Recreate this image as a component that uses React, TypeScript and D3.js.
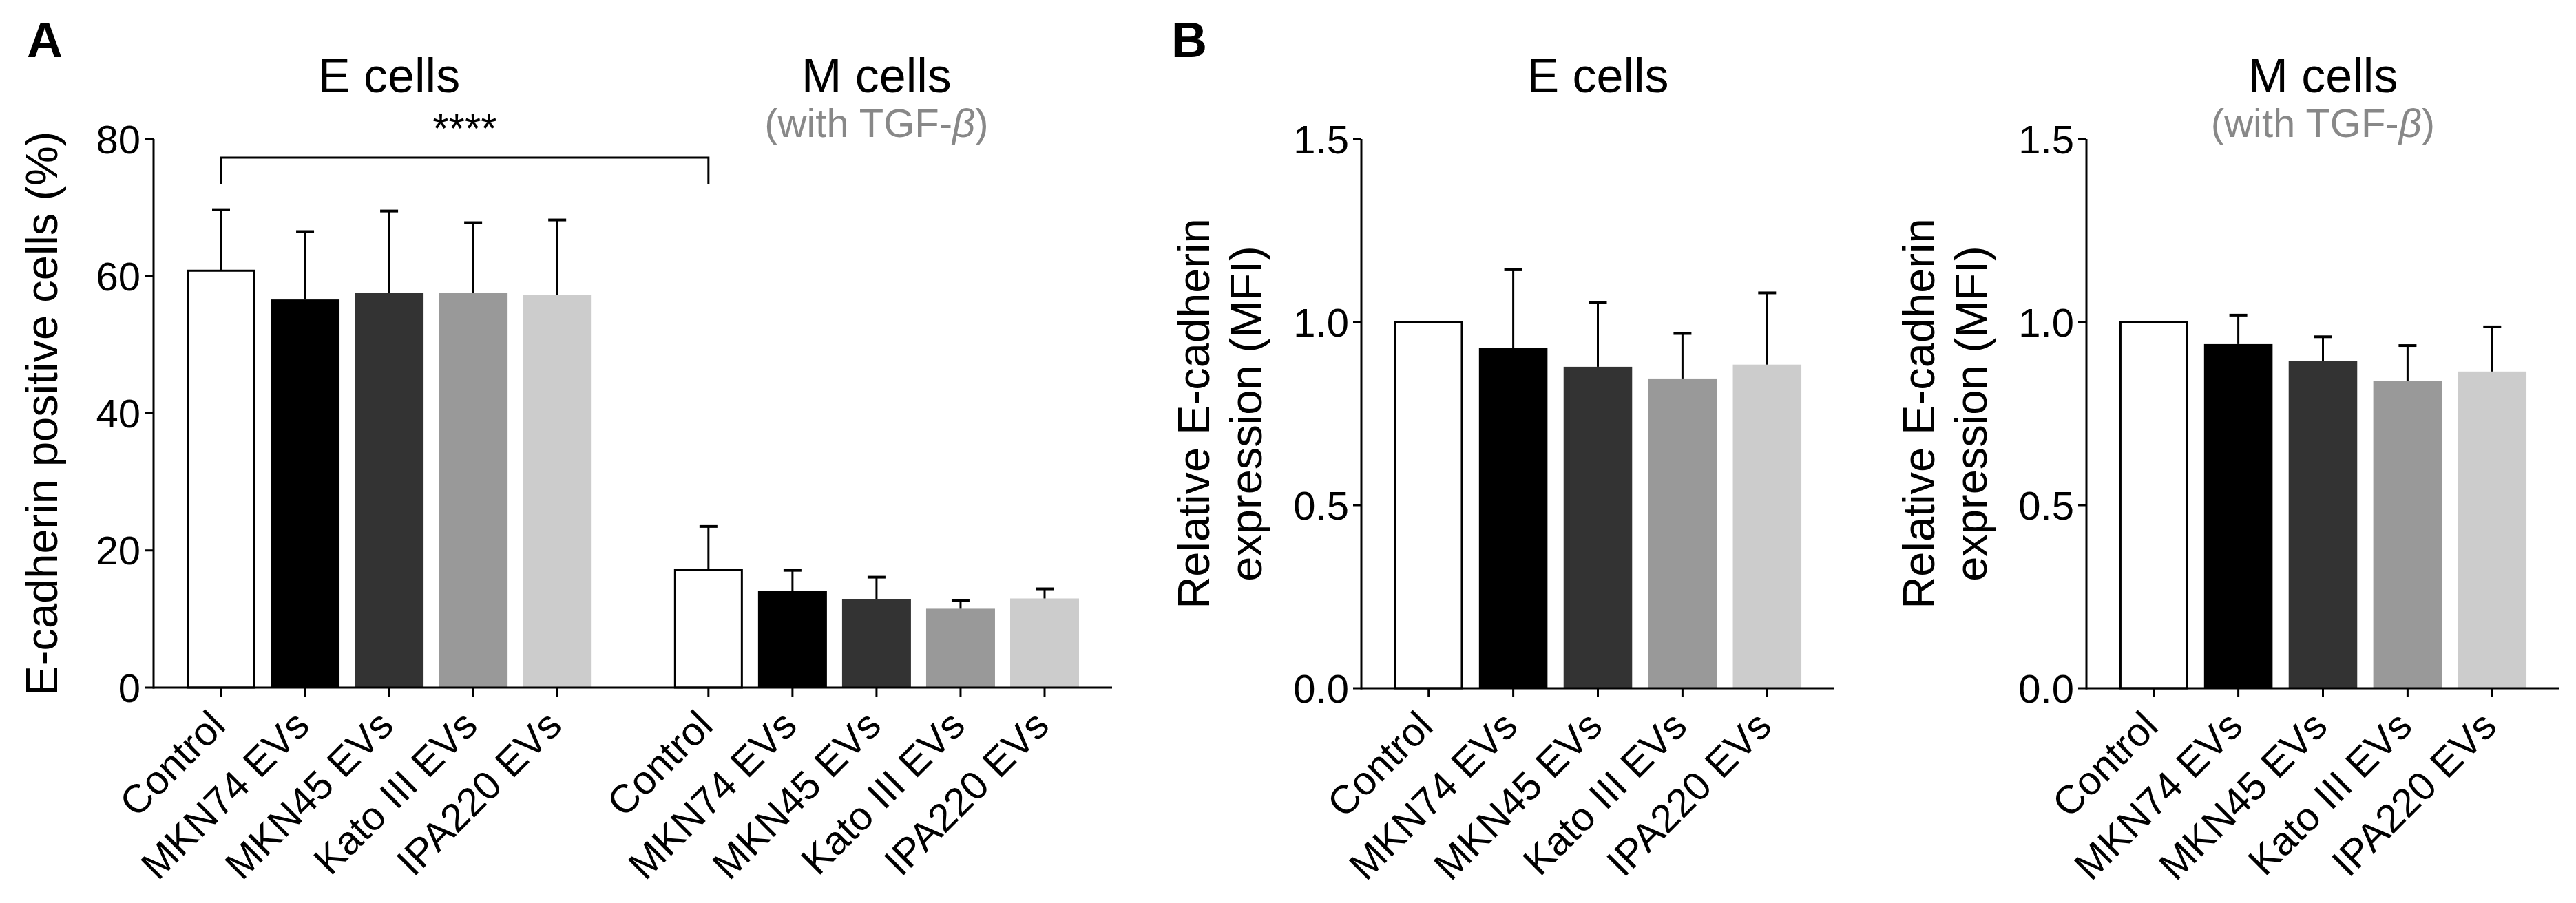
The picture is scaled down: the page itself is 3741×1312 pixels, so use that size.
import * as React from "react";
import * as d3 from "d3";

const CATEGORIES = ["Control", "MKN74 EVs", "MKN45 EVs", "Kato III EVs", "IPA220 EVs"];
const FILLS = ["#ffffff", "#000000", "#333333", "#999999", "#cccccc"];

// panel A: E-cadherin positive cells (%), mean and SD
const A_E_MEAN = [60.8, 56.6, 57.6, 57.6, 57.3];
const A_E_SD = [8.9, 9.9, 11.9, 10.2, 10.9];
const A_M_MEAN = [17.2, 14.1, 12.9, 11.5, 13.0];
const A_M_SD = [6.3, 3.0, 3.2, 1.2, 1.4];
const A_TICKS = [0, 20, 40, 60, 80];

// panel B: relative E-cadherin expression (MFI), mean and SD
const B_E_MEAN = [1.0, 0.93, 0.878, 0.846, 0.884];
const B_E_SD = [0, 0.213, 0.175, 0.123, 0.196];
const B_M_MEAN = [1.0, 0.94, 0.893, 0.84, 0.865];
const B_M_SD = [0, 0.079, 0.067, 0.096, 0.122];
const B_TICKS = [0, 0.5, 1.0, 1.5];

const FONT = "'Liberation Sans', Arial, Helvetica, sans-serif";
const W = 3741;
const H = 1312;
const SW = 3; // stroke width

type G = d3.Selection<SVGGElement, unknown, null, undefined>;

function yAxis(g: G, x: number, y: d3.ScaleLinear<number, number>, ticks: number[], fmt: (d: number) => string, pad: number) {
  const [y0, y1] = y.range();
  g.append("line").attr("x1", x).attr("x2", x).attr("y1", y0 + SW / 2).attr("y2", y1).attr("stroke", "#000").attr("stroke-width", SW);
  ticks.forEach((t) => {
    g.append("line").attr("x1", x - 12).attr("x2", x).attr("y1", y(t)).attr("y2", y(t)).attr("stroke", "#000").attr("stroke-width", SW);
    g.append("text")
      .text(fmt(t))
      .attr("x", x - 12 - pad)
      .attr("y", y(t))
      .attr("text-anchor", "end")
      .attr("dominant-baseline", "central")
      .attr("font-size", 58)
      .attr("font-family", FONT);
  });
}

function xAxis(g: G, x0: number, x1: number, y: number, centers: number[], labels: string[]) {
  g.append("line").attr("x1", x0).attr("x2", x1).attr("y1", y).attr("y2", y).attr("stroke", "#000").attr("stroke-width", SW);
  centers.forEach((cx, i) => {
    g.append("line").attr("x1", cx).attr("x2", cx).attr("y1", y).attr("y2", y + 13).attr("stroke", "#000").attr("stroke-width", SW);
    g.append("text")
      .text(labels[i])
      .attr("transform", `translate(${cx - 5},${y + 44}) rotate(-45)`)
      .attr("text-anchor", "end")
      .attr("dominant-baseline", "central")
      .attr("font-size", 58)
      .attr("font-family", FONT);
  });
}

function bars(g: G, centers: number[], bw: number, means: number[], sds: number[], y: d3.ScaleLinear<number, number>) {
  centers.forEach((cx, i) => {
    const top = y(means[i]);
    const base = y(0);
    const white = FILLS[i] === "#ffffff";
    g.append("rect")
      .attr("x", cx - bw / 2 + (white ? SW / 2 : 0))
      .attr("y", top)
      .attr("width", bw - (white ? SW : 0))
      .attr("height", base - top)
      .attr("fill", FILLS[i])
      .attr("stroke", white ? "#000" : "none")
      .attr("stroke-width", SW);
    if (sds[i] > 0) {
      const ey = y(means[i] + sds[i]);
      g.append("line").attr("x1", cx).attr("x2", cx).attr("y1", top).attr("y2", ey).attr("stroke", "#000").attr("stroke-width", SW);
      g.append("line").attr("x1", cx - 13).attr("x2", cx + 13).attr("y1", ey).attr("y2", ey).attr("stroke", "#000").attr("stroke-width", SW + 1);
    }
  });
}

function title(g: G, cx: number, text: string, withSub: boolean) {
  g.append("text")
    .text(text)
    .attr("x", cx)
    .attr("y", 134)
    .attr("text-anchor", "middle")
    .attr("font-size", 70)
    .attr("font-family", FONT);
  if (withSub) {
    const t = g.append("text")
      .attr("x", cx)
      .attr("y", 199)
      .attr("text-anchor", "middle")
      .attr("font-size", 58)
      .attr("font-family", FONT)
      .attr("fill", "#888888");
    t.append("tspan").text("(with TGF-");
    t.append("tspan").text("β").attr("font-style", "italic");
    t.append("tspan").text(")");
  }
}

// rotated axis title; x is the baseline of the first line
function yLabel(g: G, x: number, cy: number, lines: string[]) {
  lines.forEach((line, i) => {
    g.append("text")
      .text(line)
      .attr("transform", `translate(${x + i * 76},${cy}) rotate(-90)`)
      .attr("text-anchor", "middle")
      .attr("font-size", 65)
      .attr("font-family", FONT);
  });
}

function panelLetter(g: G, x: number, text: string) {
  g.append("text").text(text).attr("x", x).attr("y", 83).attr("font-size", 72).attr("font-weight", 700).attr("font-family", FONT);
}

export default function App() {
  const ref = React.useRef<SVGSVGElement | null>(null);

  React.useEffect(() => {
    if (!ref.current) return;
    const svg = d3.select(ref.current);
    svg.selectAll("*").remove();
    svg.append("rect").attr("width", W).attr("height", H).attr("fill", "#fff");
    const g = svg.append("g") as unknown as G;

    // ---- panel A ----
    const aAxisX = 223;
    const aEnd = 1615;
    const aY = d3.scaleLinear().domain([0, 80]).range([999, 202]);
    const bw = 100;
    const slot = d3.scaleLinear().domain([0, 9.8]).range([aAxisX + 98, aEnd - 98]);
    const eCenters = CATEGORIES.map((_, i) => slot(i));
    const mCenters = CATEGORIES.map((_, i) => slot(i + 5.8));

    panelLetter(g, 39, "A");
    bars(g, eCenters, bw, A_E_MEAN, A_E_SD, aY);
    bars(g, mCenters, bw, A_M_MEAN, A_M_SD, aY);
    yAxis(g, aAxisX, aY, A_TICKS, (d) => String(d), 7);
    xAxis(g, aAxisX, aEnd, aY(0), [...eCenters, ...mCenters], [...CATEGORIES, ...CATEGORIES]);
    title(g, d3.mean(eCenters)!, "E cells", false);
    title(g, d3.mean(mCenters)!, "M cells", true);
    yLabel(g, aAxisX - 140, (aY(0) + aY(80)) / 2, ["E-cadherin positive cells (%)"]);

    // significance bracket
    const bx0 = eCenters[0];
    const bx1 = mCenters[0];
    g.append("path")
      .attr("d", `M${bx0},268V229H${bx1}V268`)
      .attr("fill", "none")
      .attr("stroke", "#000")
      .attr("stroke-width", SW);
    g.append("text")
      .text("****")
      .attr("x", (bx0 + bx1) / 2)
      .attr("y", 207)
      .attr("text-anchor", "middle")
      .attr("font-size", 60)
      .attr("font-family", FONT);

    // ---- panel B ----
    panelLetter(g, 1701, "B");
    const bY = d3.scaleLinear().domain([0, 1.5]).range([1000, 202]);
    const fmt = d3.format(".1f");
    const subPanels = [
      { axisX: 1977, end: 2664, mean: B_E_MEAN, sd: B_E_SD, title: "E cells", sub: false },
      { axisX: 3030, end: 3717, mean: B_M_MEAN, sd: B_M_SD, title: "M cells", sub: true },
    ];
    subPanels.forEach((p) => {
      const x = d3.scaleBand<string>().domain(CATEGORIES).range([p.axisX, p.end]).paddingInner(0.19).paddingOuter(0.39);
      const centers = CATEGORIES.map((c) => x(c)! + x.bandwidth() / 2);
      bars(g, centers, x.bandwidth(), p.mean, p.sd, bY);
      yAxis(g, p.axisX, bY, B_TICKS, fmt, 6);
      xAxis(g, p.axisX, p.end, bY(0), centers, CATEGORIES);
      title(g, d3.mean(centers)!, p.title, p.sub);
      yLabel(g, p.axisX - 221, (bY(0) + bY(1.5)) / 2, ["Relative E-cadherin", "expression (MFI)"]);
    });
  }, []);

  return (
    <div style={{ position: "absolute", left: 0, top: 0 }}>
      <svg ref={ref} width={W} height={H} style={{ display: "block" }} />
    </div>
  );
}
